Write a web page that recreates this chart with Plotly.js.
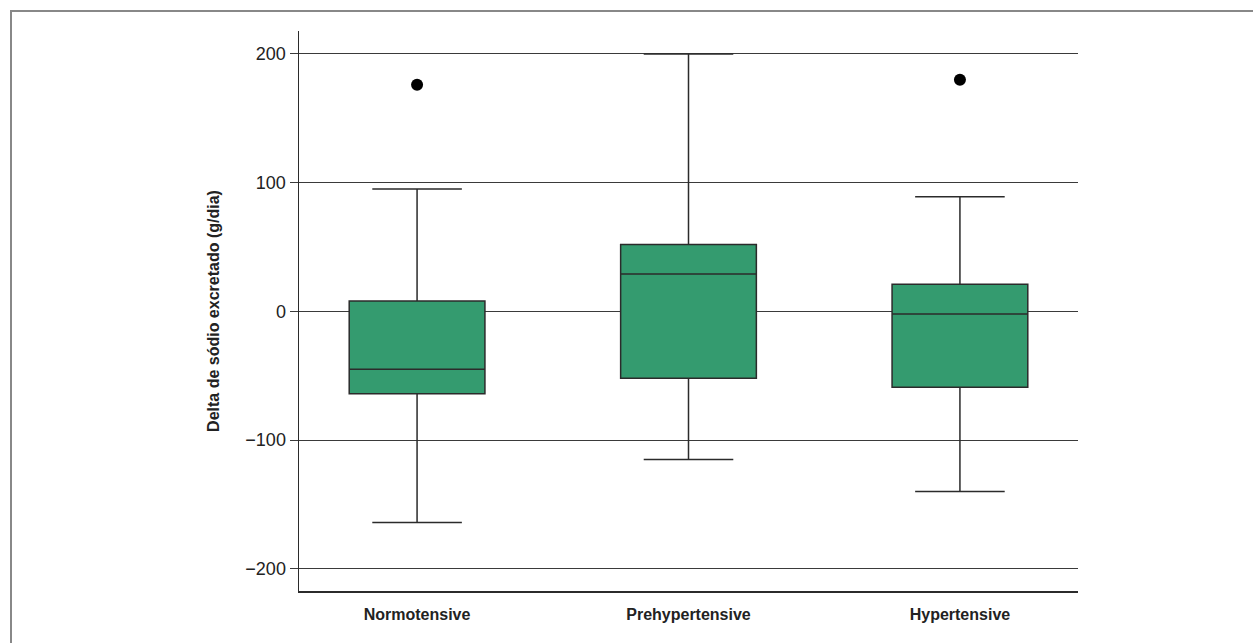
<!DOCTYPE html>
<html>
<head>
<meta charset="utf-8">
<script src="https://cdn.plot.ly/plotly-3.0.1.min.js"></script>
<style>html,body{margin:0;padding:0;background:#fff;}#chart{width:1253px;height:643px;}</style>
</head>
<body>
<div id="chart"></div>
<script>
const categories = ["Normotensive", "Prehypertensive", "Hypertensive"];
const lowerWhisker = [-164, -115, -140];
const q1Values = [-64, -52, -59];
const medianValues = [-45, 29, -2];
const q3Values = [8, 52, 21];
const upperWhisker = [95, 200, 89];
const outlierCategories = ["Normotensive", "Hypertensive"];
const outlierValues = [176, 180];
const yTicks = [-200, -100, 0, 100, 200];

const fontMain = "'Liberation Sans', Arial, sans-serif";

const boxTrace = {
  type: "box",
  x: categories,
  lowerfence: lowerWhisker,
  q1: q1Values,
  median: medianValues,
  q3: q3Values,
  upperfence: upperWhisker,
  width: 0.5,
  whiskerwidth: 0.66,
  fillcolor: "#349b6f",
  line: {color: "#2b2b2b", width: 1.5},
  boxpoints: false,
  hoverinfo: "skip",
  showlegend: false
};

const outlierTrace = {
  type: "scatter",
  mode: "markers",
  x: outlierCategories,
  y: outlierValues,
  marker: {color: "#000", size: 12},
  hoverinfo: "skip",
  showlegend: false
};

const layout = {
  width: 1253,
  height: 643,
  margin: {l: 299, r: 175, t: 31, b: 52},
  paper_bgcolor: "#fff",
  plot_bgcolor: "#fff",
  showlegend: false,
  xaxis: {
    type: "category",
    categoryorder: "array",
    categoryarray: categories,
    range: [-0.435, 2.435],
    showgrid: false,
    zeroline: false,
    showline: true,
    linecolor: "#2b2b2b",
    linewidth: 1.5,
    ticks: "",
    ticklabelstandoff: 8,
    tickfont: {family: fontMain, size: 16, color: "#222", weight: "bold"}
  },
  yaxis: {
    range: [-217.2, 217.8],
    tickvals: yTicks,
    showgrid: true,
    gridcolor: "#3a3a3a",
    gridwidth: 1,
    zeroline: false,
    showline: true,
    linecolor: "#2b2b2b",
    linewidth: 1.5,
    ticks: "outside",
    ticklen: 8,
    tickcolor: "#3a3a3a",
    tickwidth: 1,
    tickfont: {family: fontMain, size: 18, color: "#222"},
    title: {
      text: "Delta de sódio excretado (g/dia)",
      font: {family: fontMain, size: 16, color: "#222", weight: "bold"},
      standoff: 22
    }
  },
  shapes: [{
    type: "rect",
    xref: "paper", yref: "paper",
    x0: (11 - 299) / 779, x1: (1262 - 299) / 779,
    y0: (591 - 660) / 560, y1: (591 - 11) / 560,
    line: {color: "#888", width: 2},
    fillcolor: "rgba(0,0,0,0)",
    layer: "below"
  }]
};

Plotly.newPlot("chart", [boxTrace, outlierTrace], layout, {displayModeBar: false, staticPlot: true});
</script>
</body>
</html>
